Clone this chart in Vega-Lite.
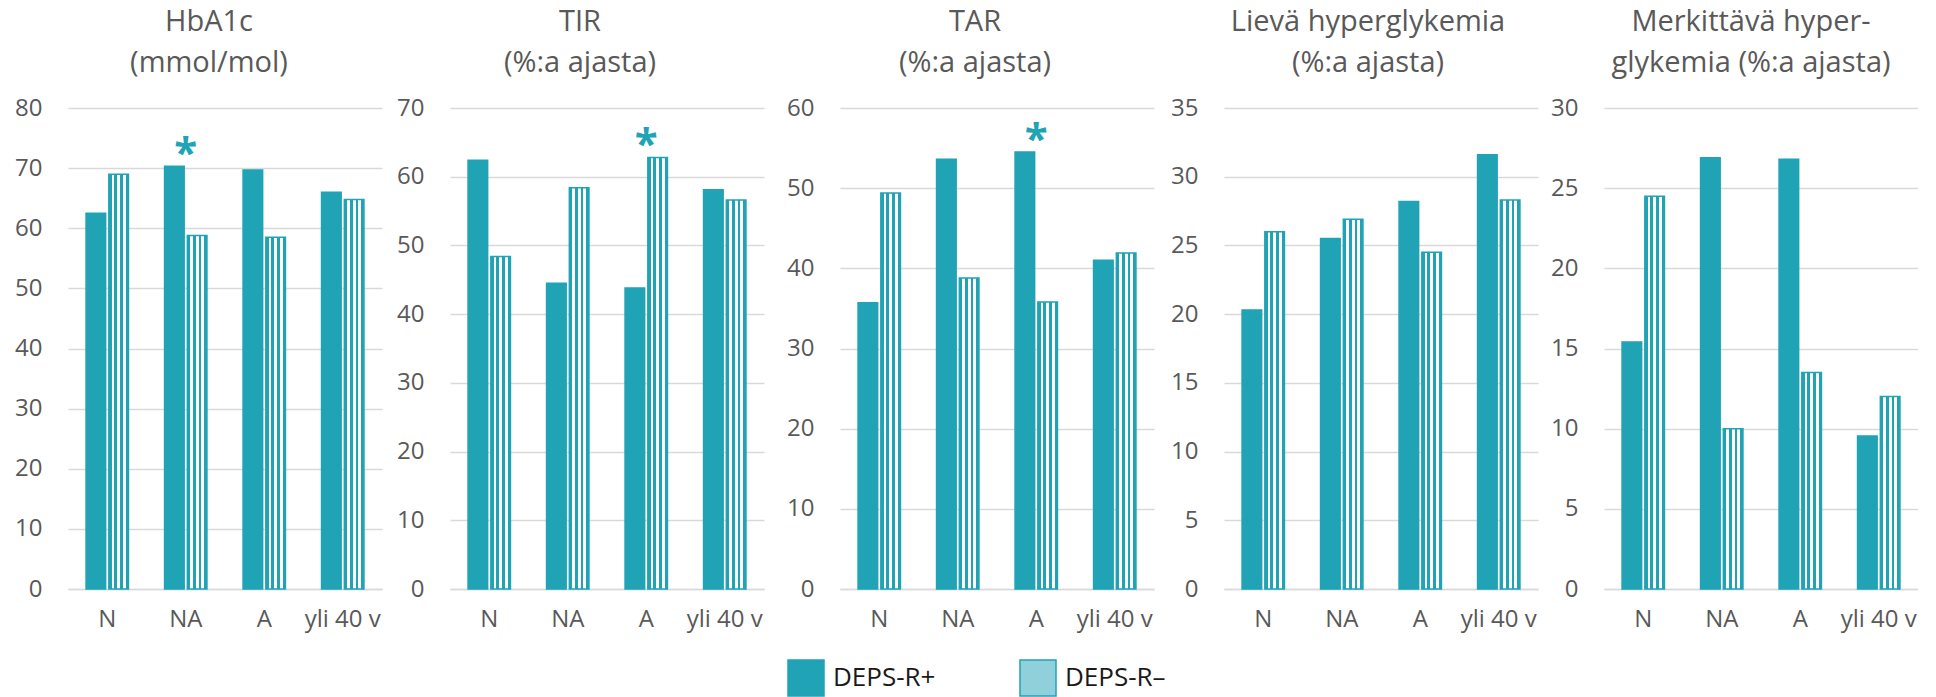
{
  "$schema": "https://vega.github.io/schema/vega-lite/v6.json",
  "padding": {"left": 0, "top": 8, "right": 0, "bottom": 0},
  "background": "white",
  "spacing": 0,
  "align": "none",
  "data": {"values": [
    {"panel": "HbA1c", "cat": "N", "group": "DEPS-R+", "value": 62.5, "sig": ""},
    {"panel": "HbA1c", "cat": "N", "group": "DEPS-R–", "value": 69.0, "sig": ""},
    {"panel": "HbA1c", "cat": "NA", "group": "DEPS-R+", "value": 70.3, "sig": "*"},
    {"panel": "HbA1c", "cat": "NA", "group": "DEPS-R–", "value": 58.8, "sig": "*"},
    {"panel": "HbA1c", "cat": "A", "group": "DEPS-R+", "value": 69.7, "sig": ""},
    {"panel": "HbA1c", "cat": "A", "group": "DEPS-R–", "value": 58.5, "sig": ""},
    {"panel": "HbA1c", "cat": "yli 40 v", "group": "DEPS-R+", "value": 66.0, "sig": ""},
    {"panel": "HbA1c", "cat": "yli 40 v", "group": "DEPS-R–", "value": 64.8, "sig": ""},
    {"panel": "TIR", "cat": "N", "group": "DEPS-R+", "value": 62.4, "sig": ""},
    {"panel": "TIR", "cat": "N", "group": "DEPS-R–", "value": 48.4, "sig": ""},
    {"panel": "TIR", "cat": "NA", "group": "DEPS-R+", "value": 44.5, "sig": ""},
    {"panel": "TIR", "cat": "NA", "group": "DEPS-R–", "value": 58.4, "sig": ""},
    {"panel": "TIR", "cat": "A", "group": "DEPS-R+", "value": 43.8, "sig": "*"},
    {"panel": "TIR", "cat": "A", "group": "DEPS-R–", "value": 62.8, "sig": "*"},
    {"panel": "TIR", "cat": "yli 40 v", "group": "DEPS-R+", "value": 58.1, "sig": ""},
    {"panel": "TIR", "cat": "yli 40 v", "group": "DEPS-R–", "value": 56.6, "sig": ""},
    {"panel": "TAR", "cat": "N", "group": "DEPS-R+", "value": 35.7, "sig": ""},
    {"panel": "TAR", "cat": "N", "group": "DEPS-R–", "value": 49.4, "sig": ""},
    {"panel": "TAR", "cat": "NA", "group": "DEPS-R+", "value": 53.6, "sig": ""},
    {"panel": "TAR", "cat": "NA", "group": "DEPS-R–", "value": 38.8, "sig": ""},
    {"panel": "TAR", "cat": "A", "group": "DEPS-R+", "value": 54.5, "sig": "*"},
    {"panel": "TAR", "cat": "A", "group": "DEPS-R–", "value": 35.8, "sig": "*"},
    {"panel": "TAR", "cat": "yli 40 v", "group": "DEPS-R+", "value": 41.0, "sig": ""},
    {"panel": "TAR", "cat": "yli 40 v", "group": "DEPS-R–", "value": 41.9, "sig": ""},
    {"panel": "LH", "cat": "N", "group": "DEPS-R+", "value": 20.3, "sig": ""},
    {"panel": "LH", "cat": "N", "group": "DEPS-R–", "value": 26.0, "sig": ""},
    {"panel": "LH", "cat": "NA", "group": "DEPS-R+", "value": 25.5, "sig": ""},
    {"panel": "LH", "cat": "NA", "group": "DEPS-R–", "value": 26.9, "sig": ""},
    {"panel": "LH", "cat": "A", "group": "DEPS-R+", "value": 28.2, "sig": ""},
    {"panel": "LH", "cat": "A", "group": "DEPS-R–", "value": 24.5, "sig": ""},
    {"panel": "LH", "cat": "yli 40 v", "group": "DEPS-R+", "value": 31.6, "sig": ""},
    {"panel": "LH", "cat": "yli 40 v", "group": "DEPS-R–", "value": 28.3, "sig": ""},
    {"panel": "MH", "cat": "N", "group": "DEPS-R+", "value": 15.4, "sig": ""},
    {"panel": "MH", "cat": "N", "group": "DEPS-R–", "value": 24.5, "sig": ""},
    {"panel": "MH", "cat": "NA", "group": "DEPS-R+", "value": 26.9, "sig": ""},
    {"panel": "MH", "cat": "NA", "group": "DEPS-R–", "value": 10.0, "sig": ""},
    {"panel": "MH", "cat": "A", "group": "DEPS-R+", "value": 26.8, "sig": ""},
    {"panel": "MH", "cat": "A", "group": "DEPS-R–", "value": 13.5, "sig": ""},
    {"panel": "MH", "cat": "yli 40 v", "group": "DEPS-R+", "value": 9.55, "sig": ""},
    {"panel": "MH", "cat": "yli 40 v", "group": "DEPS-R–", "value": 12.0, "sig": ""}
  ]},
  "hconcat": [
    {
      "width": 314, "height": 481,
      "title": {"text": ["HbA1c", "(mmol/mol)"], "dx": -16},
      "transform": [{"filter": "datum.panel === 'HbA1c'"}],
      "encoding": {
        "x": {"field": "cat", "type": "nominal", "sort": ["N", "NA", "A", "yli 40 v"], "scale": {"paddingInner": 0.46, "paddingOuter": 0.23}, "axis": {"title": null}},
        "y": {"field": "value", "type": "quantitative", "scale": {"domain": [0, 80], "nice": false}, "axis": {"title": null, "values": [0, 10, 20, 30, 40, 50, 60, 70, 80], "minExtent": 68, "maxExtent": 68}}
      },
      "layer": [
        {
          "mark": {"type": "bar", "stroke": "#21A3B6", "strokeWidth": 1.5},
          "encoding": {
            "xOffset": {"field": "group", "type": "nominal", "sort": ["DEPS-R+", "DEPS-R–"], "scale": {"paddingInner": 0.14, "paddingOuter": 0}},
            "fill": {
              "field": "group", "type": "nominal",
              "scale": {"domain": ["DEPS-R+", "DEPS-R–"], "range": ["#21A3B6", "#8FD0DA"]},
              "condition": {"test": "datum.group === 'DEPS-R–'", "value": {"gradient": "linear", "x1": 0, "y1": 0, "x2": 1, "y2": 0, "stops": [{"offset": 0, "color": "#21A3B6"}, {"offset": 0.143, "color": "#21A3B6"}, {"offset": 0.143, "color": "#ffffff"}, {"offset": 0.286, "color": "#ffffff"}, {"offset": 0.286, "color": "#21A3B6"}, {"offset": 0.429, "color": "#21A3B6"}, {"offset": 0.429, "color": "#ffffff"}, {"offset": 0.571, "color": "#ffffff"}, {"offset": 0.571, "color": "#21A3B6"}, {"offset": 0.714, "color": "#21A3B6"}, {"offset": 0.714, "color": "#ffffff"}, {"offset": 0.857, "color": "#ffffff"}, {"offset": 0.857, "color": "#21A3B6"}, {"offset": 1, "color": "#21A3B6"}]}},
              "legend": {
                "title": null, "orient": "none", "legendX": 719, "legendY": 551, "direction": "horizontal",
                "symbolType": "square", "symbolSize": 1296, "symbolStrokeWidth": 1.5, "symbolStrokeColor": "#21A3B6",
                "labelFont": "Open Sans", "labelFontSize": 26, "labelColor": "#1a1a1a", "labelOffset": 8, "labelLimit": 300,
                "columnPadding": 81, "padding": 0
              }
            }
          }
        },
        {
          "transform": [{"aggregate": [{"op": "max", "field": "value", "as": "value"}], "groupby": ["cat", "sig"]}, {"filter": "datum.sig === '*'"}],
          "mark": {"type": "text", "font": "Open Sans", "fontSize": 42, "fontWeight": "bold", "color": "#21A3B6", "baseline": "alphabetic", "align": "center", "dy": 1},
          "encoding": {"text": {"field": "sig"}}
        }
      ]
    },
    {
      "width": 314, "height": 481,
      "title": {"text": ["TIR", "(%:a ajasta)"], "dx": -27},
      "transform": [{"filter": "datum.panel === 'TIR'"}],
      "encoding": {
        "x": {"field": "cat", "type": "nominal", "sort": ["N", "NA", "A", "yli 40 v"], "scale": {"paddingInner": 0.46, "paddingOuter": 0.23}, "axis": {"title": null}},
        "y": {"field": "value", "type": "quantitative", "scale": {"domain": [0, 70], "nice": false}, "axis": {"title": null, "values": [0, 10, 20, 30, 40, 50, 60, 70], "minExtent": 68, "maxExtent": 68}}
      },
      "layer": [
        {
          "mark": {"type": "bar", "stroke": "#21A3B6", "strokeWidth": 1.5},
          "encoding": {
            "xOffset": {"field": "group", "type": "nominal", "sort": ["DEPS-R+", "DEPS-R–"], "scale": {"paddingInner": 0.14, "paddingOuter": 0}},
            "fill": {
              "field": "group", "type": "nominal",
              "scale": {"domain": ["DEPS-R+", "DEPS-R–"], "range": ["#21A3B6", "#8FD0DA"]},
              "condition": {"test": "datum.group === 'DEPS-R–'", "value": {"gradient": "linear", "x1": 0, "y1": 0, "x2": 1, "y2": 0, "stops": [{"offset": 0, "color": "#21A3B6"}, {"offset": 0.143, "color": "#21A3B6"}, {"offset": 0.143, "color": "#ffffff"}, {"offset": 0.286, "color": "#ffffff"}, {"offset": 0.286, "color": "#21A3B6"}, {"offset": 0.429, "color": "#21A3B6"}, {"offset": 0.429, "color": "#ffffff"}, {"offset": 0.571, "color": "#ffffff"}, {"offset": 0.571, "color": "#21A3B6"}, {"offset": 0.714, "color": "#21A3B6"}, {"offset": 0.714, "color": "#ffffff"}, {"offset": 0.857, "color": "#ffffff"}, {"offset": 0.857, "color": "#21A3B6"}, {"offset": 1, "color": "#21A3B6"}]}},
              "legend": {
                "title": null, "orient": "none", "legendX": 719, "legendY": 551, "direction": "horizontal",
                "symbolType": "square", "symbolSize": 1296, "symbolStrokeWidth": 1.5, "symbolStrokeColor": "#21A3B6",
                "labelFont": "Open Sans", "labelFontSize": 26, "labelColor": "#1a1a1a", "labelOffset": 8, "labelLimit": 300,
                "columnPadding": 81, "padding": 0
              }
            }
          }
        },
        {
          "transform": [{"aggregate": [{"op": "max", "field": "value", "as": "value"}], "groupby": ["cat", "sig"]}, {"filter": "datum.sig === '*'"}],
          "mark": {"type": "text", "font": "Open Sans", "fontSize": 42, "fontWeight": "bold", "color": "#21A3B6", "baseline": "alphabetic", "align": "center", "dy": 1},
          "encoding": {"text": {"field": "sig"}}
        }
      ]
    },
    {
      "width": 314, "height": 481,
      "title": {"text": ["TAR", "(%:a ajasta)"], "dx": -22},
      "transform": [{"filter": "datum.panel === 'TAR'"}],
      "encoding": {
        "x": {"field": "cat", "type": "nominal", "sort": ["N", "NA", "A", "yli 40 v"], "scale": {"paddingInner": 0.46, "paddingOuter": 0.23}, "axis": {"title": null}},
        "y": {"field": "value", "type": "quantitative", "scale": {"domain": [0, 60], "nice": false}, "axis": {"title": null, "values": [0, 10, 20, 30, 40, 50, 60], "minExtent": 76, "maxExtent": 76}}
      },
      "layer": [
        {
          "mark": {"type": "bar", "stroke": "#21A3B6", "strokeWidth": 1.5},
          "encoding": {
            "xOffset": {"field": "group", "type": "nominal", "sort": ["DEPS-R+", "DEPS-R–"], "scale": {"paddingInner": 0.14, "paddingOuter": 0}},
            "fill": {
              "field": "group", "type": "nominal",
              "scale": {"domain": ["DEPS-R+", "DEPS-R–"], "range": ["#21A3B6", "#8FD0DA"]},
              "condition": {"test": "datum.group === 'DEPS-R–'", "value": {"gradient": "linear", "x1": 0, "y1": 0, "x2": 1, "y2": 0, "stops": [{"offset": 0, "color": "#21A3B6"}, {"offset": 0.143, "color": "#21A3B6"}, {"offset": 0.143, "color": "#ffffff"}, {"offset": 0.286, "color": "#ffffff"}, {"offset": 0.286, "color": "#21A3B6"}, {"offset": 0.429, "color": "#21A3B6"}, {"offset": 0.429, "color": "#ffffff"}, {"offset": 0.571, "color": "#ffffff"}, {"offset": 0.571, "color": "#21A3B6"}, {"offset": 0.714, "color": "#21A3B6"}, {"offset": 0.714, "color": "#ffffff"}, {"offset": 0.857, "color": "#ffffff"}, {"offset": 0.857, "color": "#21A3B6"}, {"offset": 1, "color": "#21A3B6"}]}},
              "legend": {
                "title": null, "orient": "none", "legendX": 719, "legendY": 551, "direction": "horizontal",
                "symbolType": "square", "symbolSize": 1296, "symbolStrokeWidth": 1.5, "symbolStrokeColor": "#21A3B6",
                "labelFont": "Open Sans", "labelFontSize": 26, "labelColor": "#1a1a1a", "labelOffset": 8, "labelLimit": 300,
                "columnPadding": 81, "padding": 0
              }
            }
          }
        },
        {
          "transform": [{"aggregate": [{"op": "max", "field": "value", "as": "value"}], "groupby": ["cat", "sig"]}, {"filter": "datum.sig === '*'"}],
          "mark": {"type": "text", "font": "Open Sans", "fontSize": 42, "fontWeight": "bold", "color": "#21A3B6", "baseline": "alphabetic", "align": "center", "dy": 1},
          "encoding": {"text": {"field": "sig"}}
        }
      ]
    },
    {
      "width": 314, "height": 481,
      "title": {"text": ["Lievä hyperglykemia", "(%:a ajasta)"], "dx": -13},
      "transform": [{"filter": "datum.panel === 'LH'"}],
      "encoding": {
        "x": {"field": "cat", "type": "nominal", "sort": ["N", "NA", "A", "yli 40 v"], "scale": {"paddingInner": 0.46, "paddingOuter": 0.23}, "axis": {"title": null}},
        "y": {"field": "value", "type": "quantitative", "scale": {"domain": [0, 35], "nice": false}, "axis": {"title": null, "values": [0, 5, 10, 15, 20, 25, 30, 35], "minExtent": 70, "maxExtent": 70}}
      },
      "layer": [
        {
          "mark": {"type": "bar", "stroke": "#21A3B6", "strokeWidth": 1.5},
          "encoding": {
            "xOffset": {"field": "group", "type": "nominal", "sort": ["DEPS-R+", "DEPS-R–"], "scale": {"paddingInner": 0.14, "paddingOuter": 0}},
            "fill": {
              "field": "group", "type": "nominal",
              "scale": {"domain": ["DEPS-R+", "DEPS-R–"], "range": ["#21A3B6", "#8FD0DA"]},
              "condition": {"test": "datum.group === 'DEPS-R–'", "value": {"gradient": "linear", "x1": 0, "y1": 0, "x2": 1, "y2": 0, "stops": [{"offset": 0, "color": "#21A3B6"}, {"offset": 0.143, "color": "#21A3B6"}, {"offset": 0.143, "color": "#ffffff"}, {"offset": 0.286, "color": "#ffffff"}, {"offset": 0.286, "color": "#21A3B6"}, {"offset": 0.429, "color": "#21A3B6"}, {"offset": 0.429, "color": "#ffffff"}, {"offset": 0.571, "color": "#ffffff"}, {"offset": 0.571, "color": "#21A3B6"}, {"offset": 0.714, "color": "#21A3B6"}, {"offset": 0.714, "color": "#ffffff"}, {"offset": 0.857, "color": "#ffffff"}, {"offset": 0.857, "color": "#21A3B6"}, {"offset": 1, "color": "#21A3B6"}]}},
              "legend": {
                "title": null, "orient": "none", "legendX": 719, "legendY": 551, "direction": "horizontal",
                "symbolType": "square", "symbolSize": 1296, "symbolStrokeWidth": 1.5, "symbolStrokeColor": "#21A3B6",
                "labelFont": "Open Sans", "labelFontSize": 26, "labelColor": "#1a1a1a", "labelOffset": 8, "labelLimit": 300,
                "columnPadding": 81, "padding": 0
              }
            }
          }
        }
      ]
    },
    {
      "width": 314, "height": 481,
      "title": {"text": ["Merkittävä hyper-", "glykemia (%:a ajasta)"], "dx": -10},
      "transform": [{"filter": "datum.panel === 'MH'"}],
      "encoding": {
        "x": {"field": "cat", "type": "nominal", "sort": ["N", "NA", "A", "yli 40 v"], "scale": {"paddingInner": 0.46, "paddingOuter": 0.23}, "axis": {"title": null}},
        "y": {"field": "value", "type": "quantitative", "scale": {"domain": [0, 30], "nice": false}, "axis": {"title": null, "values": [0, 5, 10, 15, 20, 25, 30], "minExtent": 66, "maxExtent": 66}}
      },
      "layer": [
        {
          "mark": {"type": "bar", "stroke": "#21A3B6", "strokeWidth": 1.5},
          "encoding": {
            "xOffset": {"field": "group", "type": "nominal", "sort": ["DEPS-R+", "DEPS-R–"], "scale": {"paddingInner": 0.14, "paddingOuter": 0}},
            "fill": {
              "field": "group", "type": "nominal",
              "scale": {"domain": ["DEPS-R+", "DEPS-R–"], "range": ["#21A3B6", "#8FD0DA"]},
              "condition": {"test": "datum.group === 'DEPS-R–'", "value": {"gradient": "linear", "x1": 0, "y1": 0, "x2": 1, "y2": 0, "stops": [{"offset": 0, "color": "#21A3B6"}, {"offset": 0.143, "color": "#21A3B6"}, {"offset": 0.143, "color": "#ffffff"}, {"offset": 0.286, "color": "#ffffff"}, {"offset": 0.286, "color": "#21A3B6"}, {"offset": 0.429, "color": "#21A3B6"}, {"offset": 0.429, "color": "#ffffff"}, {"offset": 0.571, "color": "#ffffff"}, {"offset": 0.571, "color": "#21A3B6"}, {"offset": 0.714, "color": "#21A3B6"}, {"offset": 0.714, "color": "#ffffff"}, {"offset": 0.857, "color": "#ffffff"}, {"offset": 0.857, "color": "#21A3B6"}, {"offset": 1, "color": "#21A3B6"}]}},
              "legend": {
                "title": null, "orient": "none", "legendX": 719, "legendY": 551, "direction": "horizontal",
                "symbolType": "square", "symbolSize": 1296, "symbolStrokeWidth": 1.5, "symbolStrokeColor": "#21A3B6",
                "labelFont": "Open Sans", "labelFontSize": 26, "labelColor": "#1a1a1a", "labelOffset": 8, "labelLimit": 300,
                "columnPadding": 81, "padding": 0
              }
            }
          }
        }
      ]
    }
  ],
  "config": {
    "font": "Open Sans",
    "view": {"stroke": null},
    "axis": {"labelFont": "Open Sans", "labelFontSize": 24, "labelColor": "#595959", "ticks": false, "gridColor": "#d9d9d9", "gridWidth": 1.5, "domainColor": "#d9d9d9", "domainWidth": 1.5},
    "axisX": {"grid": false, "labelPadding": 18, "labelAngle": 0},
    "axisY": {"domain": false, "labelPadding": 26},
    "title": {"font": "Open Sans", "fontSize": 29, "fontWeight": "normal", "color": "#595959", "lineHeight": 41, "anchor": "middle", "frame": "group", "offset": 18}
  }
}
